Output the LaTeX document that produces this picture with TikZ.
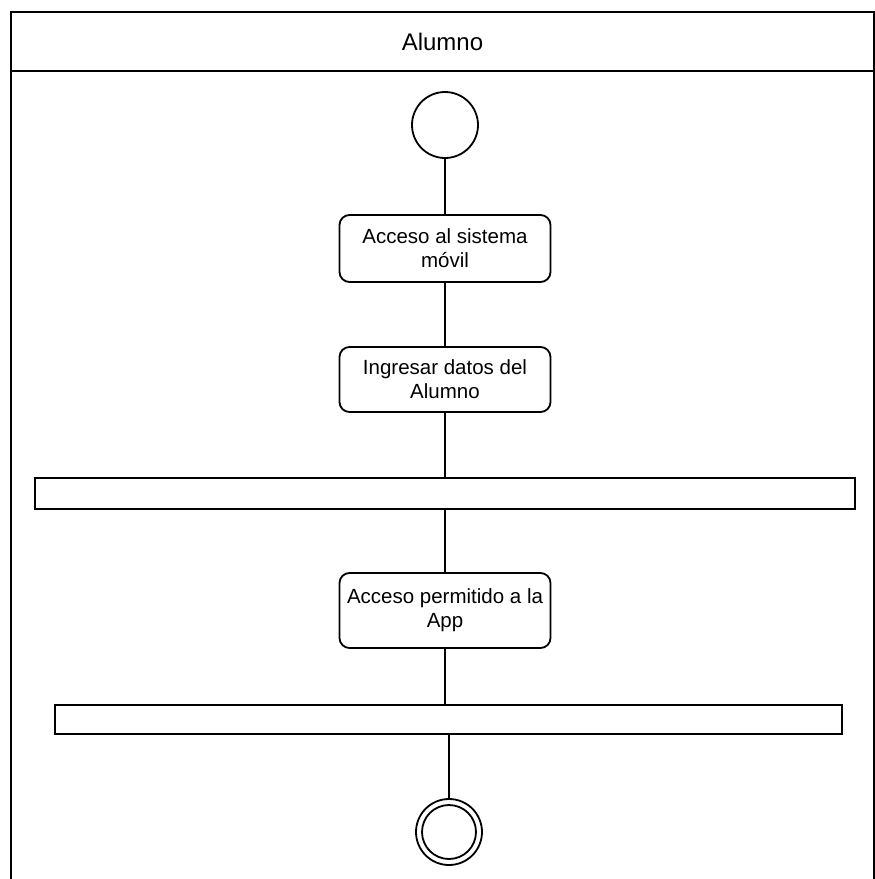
\documentclass[tikz,border=0pt]{standalone}
\usepackage{fontspec}
\setmainfont{Liberation Sans}
\begin{document}
\begin{tikzpicture}[x=1pt,y=-1pt,line width=1.8pt,
  action/.style={draw,rounded corners=10pt,minimum width=211pt,align=center,
    inner sep=0pt,outer sep=0pt,font=\fontsize{20.5}{24}\selectfont},
  syncbar/.style={draw,inner sep=0pt,outer sep=0pt},
  flow/.style={draw,line width=2pt}]
  \useasboundingbox (0,0) rectangle (875,879);
  % swimlane frame
  \node[draw,inner sep=0pt,outer sep=0pt,minimum width=863pt,minimum height=59pt,
        font=\fontsize{24}{28}\selectfont] (lane) at (442.5,41.5) {Alumno};
  \coordinate (laneBL) at (11,879);
  \coordinate (laneBR) at (874,879);
  \draw (lane.south west) -- (laneBL);
  \draw (lane.south east) -- (laneBR);
  % activity nodes
  \node[draw,circle,minimum size=66pt,inner sep=0pt,outer sep=0pt] (start) at (445,125) {};
  \node[action,minimum height=67pt] (a1) at (445,248.5) {Acceso al sistema\\móvil};
  \node[action,minimum height=65pt] (a2) at (445,379.5) {Ingresar datos del\\Alumno};
  \node[syncbar,minimum width=820pt,minimum height=31pt] (fork1) at (445,493.5) {};
  \node[action,minimum height=75pt] (a3) at (445,610.5) {Acceso permitido a la\\App};
  \node[syncbar,minimum width=787pt,minimum height=29pt] (fork2) at (448.5,719.5) {};
  \node[draw,circle,minimum size=66pt,inner sep=0pt,outer sep=0pt] (end) at (449,832) {};
  \node[draw,circle,minimum size=54pt,inner sep=0pt] (endin) at (end) {};
  % flow
  \draw[flow] (start.south) -- (a1.north);
  \draw[flow] (a1.south) -- (a2.north);
  \draw[flow] (a2.south) -- (a2.south |- fork1.north);
  \draw[flow] (a3.north |- fork1.south) -- (a3.north);
  \draw[flow] (a3.south) -- (a3.south |- fork2.north);
  \draw[flow] (end.north |- fork2.south) -- (end.north);
\end{tikzpicture}
\end{document}
